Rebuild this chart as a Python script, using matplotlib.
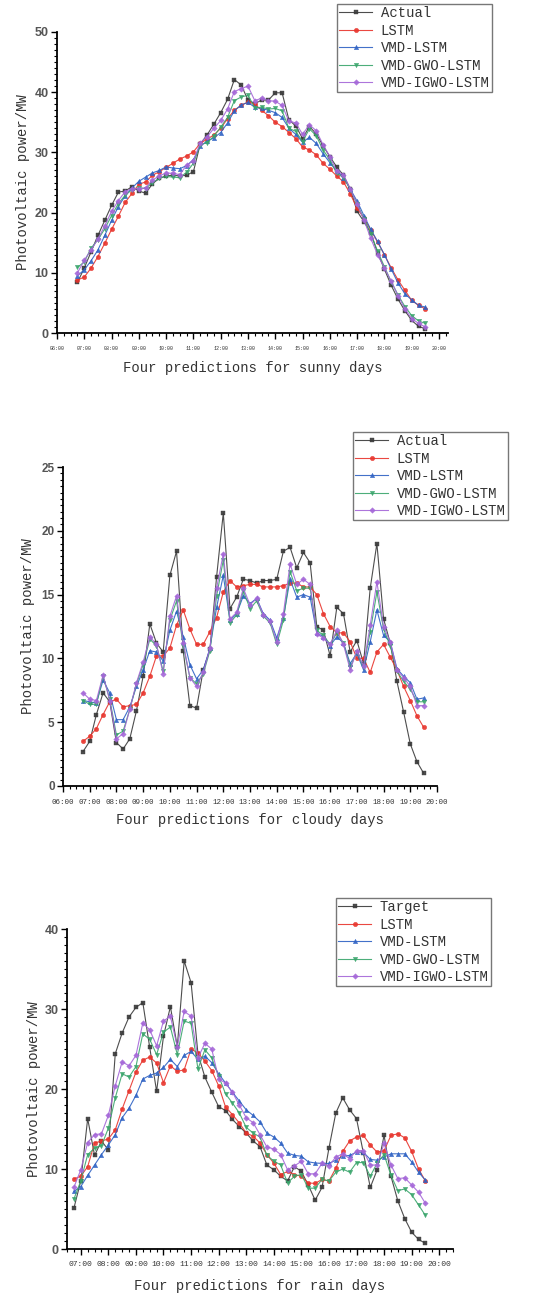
#!/usr/bin/env python3
"""Four-model PV power forecasts for sunny, cloudy and rain days (three stacked panels)."""
import matplotlib
matplotlib.use("Agg")
import matplotlib.pyplot as plt
from matplotlib.ticker import MultipleLocator

plt.rcParams["font.family"] = ["Liberation Mono", "DejaVu Sans Mono"]

TIMES = ["06:45", "07:00", "07:15", "07:30", "07:45", "08:00", "08:15", "08:30", "08:45",
         "09:00", "09:15", "09:30", "09:45", "10:00", "10:15", "10:30", "10:45",
         "11:00", "11:15", "11:30", "11:45", "12:00", "12:15", "12:30", "12:45",
         "13:00", "13:15", "13:30", "13:45", "14:00", "14:15", "14:30", "14:45",
         "15:00", "15:15", "15:30", "15:45", "16:00", "16:15", "16:30", "16:45",
         "17:00", "17:15", "17:30", "17:45", "18:00", "18:15", "18:30", "18:45",
         "19:00", "19:15", "19:30"]

MODELS = ["LSTM", "VMD-LSTM", "VMD-GWO-LSTM", "VMD-IGWO-LSTM"]

# sunny day
SUNNY_ACTUAL = [8.4, 10.8, 13.5, 16.2, 18.7, 21.2, 23.4, 23.6, 24.3, 23.6, 23.2, 24.8, 25.7,
                26.1, 26.2, 26.1, 26.2, 26.8, 31.4, 32.9, 34.7, 36.6, 38.8, 42.1, 41.2, 38.7,
                38.1, 38.7, 38.7, 39.9, 39.9, 35.4, 34.4, 32.3, 34.3, 33.1, 31.1, 29.3, 27.6,
                26.2, 23.9, 20.2, 18.5, 16.6, 13.3, 10.6, 7.9, 5.6, 3.7, 2.1, 1.1, 0.7]
SUNNY_LSTM = [8.8, 9.3, 10.8, 12.7, 14.9, 17.2, 19.4, 21.7, 23.2, 24.7, 25.1, 26.2, 26.8,
              27.5, 28.2, 28.9, 29.4, 30.1, 31.5, 32.2, 32.9, 34.0, 35.6, 37.0, 37.8, 38.4,
              38.0, 37.0, 36.1, 35.0, 34.3, 33.3, 32.3, 30.9, 30.4, 29.6, 28.2, 27.2, 26.1,
              25.1, 23.1, 20.7, 19.1, 17.1, 15.1, 13.0, 10.8, 8.8, 7.1, 5.4, 4.6, 4.0]
SUNNY_VMD = [9.5, 10.5, 12.0, 13.8, 16.2, 18.7, 21.0, 22.8, 24.1, 25.2, 25.9, 26.6, 27.0,
             27.6, 27.4, 27.3, 27.8, 28.8, 31.0, 31.9, 32.4, 33.3, 34.9, 36.9, 37.9, 38.3,
             37.5, 37.3, 37.0, 36.6, 35.8, 34.0, 33.0, 31.7, 32.5, 31.5, 29.8, 28.3, 26.9,
             25.8, 23.9, 21.9, 19.5, 17.2, 15.2, 13.0, 10.6, 8.3, 6.5, 5.5, 4.6, 4.3]
SUNNY_GWO = [10.9, 11.8, 14.1, 15.5, 17.3, 19.5, 21.5, 22.9, 23.8, 24.1, 24.0, 25.0, 25.7,
             26.0, 25.9, 25.8, 26.7, 28.2, 31.3, 31.6, 32.7, 34.2, 35.8, 38.6, 39.2, 39.5,
             37.4, 37.5, 37.2, 37.3, 36.9, 34.0, 33.5, 31.8, 33.9, 32.8, 30.4, 28.8, 26.5,
             25.9, 23.8, 21.4, 19.0, 16.5, 13.6, 11.0, 8.5, 6.3, 4.4, 2.9, 2.0, 1.6]
SUNNY_IGWO = [10.0, 12.1, 13.8, 15.6, 17.8, 20.2, 22.0, 23.5, 24.0, 24.0, 24.1, 25.4, 26.1,
              26.6, 26.5, 26.3, 27.9, 28.6, 31.6, 32.6, 34.0, 35.3, 37.2, 40.1, 40.6, 41.0,
              38.6, 39.0, 38.6, 38.5, 37.8, 35.2, 34.9, 33.0, 34.6, 33.6, 31.3, 29.3, 26.9,
              26.3, 23.9, 21.4, 18.8, 15.7, 13.0, 10.8, 8.6, 6.2, 4.0, 2.4, 1.6, 1.0]

# cloudy day
CLOUDY_ACTUAL = [2.7, 3.5, 5.6, 7.3, 6.6, 3.4, 2.9, 3.7, 5.9, 8.6, 12.7, 11.2, 10.5, 16.5,
                 18.4, 10.6, 6.3, 6.1, 9.1, 10.7, 16.4, 21.4, 13.9, 14.8, 16.2, 16.1, 15.9,
                 16.1, 16.1, 16.2, 18.4, 18.7, 17.1, 18.3, 17.5, 12.5, 12.2, 10.2, 14.0, 13.5,
                 10.5, 11.4, 9.6, 15.5, 19.0, 13.1, 11.2, 8.2, 5.8, 3.3, 1.9, 1.0]
CLOUDY_LSTM = [3.5, 3.9, 4.5, 5.6, 6.6, 6.8, 6.2, 6.3, 6.4, 7.3, 8.6, 10.2, 10.2, 10.8, 12.6,
               13.8, 12.3, 11.1, 11.1, 12.1, 13.2, 15.2, 16.1, 15.6, 15.7, 15.8, 15.8, 15.6,
               15.6, 15.6, 15.7, 15.9, 15.9, 15.6, 15.6, 15.0, 13.5, 12.5, 12.0, 12.0, 11.3,
               10.0, 10.0, 8.9, 10.5, 11.1, 10.1, 9.1, 7.8, 6.7, 5.5, 4.6]
CLOUDY_VMD = [6.7, 6.6, 6.5, 8.3, 7.3, 5.2, 5.2, 6.2, 7.8, 9.1, 10.6, 10.5, 9.8, 12.2, 13.7,
              11.7, 9.5, 8.4, 9.1, 10.8, 14.0, 16.5, 13.0, 13.5, 14.9, 14.3, 14.7, 13.5, 13.0,
              11.6, 13.2, 16.2, 14.8, 15.0, 14.8, 12.0, 11.7, 11.0, 11.7, 11.2, 9.6, 10.4,
              9.1, 11.3, 13.8, 11.8, 11.3, 9.2, 8.6, 8.1, 6.8, 6.9]
CLOUDY_GWO = [6.7, 6.4, 6.4, 8.6, 6.8, 4.0, 4.3, 6.0, 8.0, 9.5, 11.5, 11.0, 9.0, 13.0, 14.5,
              11.0, 8.5, 8.0, 8.8, 10.6, 14.9, 17.7, 12.8, 13.4, 15.3, 13.9, 14.5, 13.3, 12.8,
              11.1, 13.0, 16.8, 15.3, 15.5, 15.5, 12.2, 11.8, 11.1, 12.0, 11.2, 9.3, 10.5,
              9.3, 12.1, 15.2, 12.3, 11.0, 9.0, 8.2, 7.6, 6.6, 6.6]
CLOUDY_IGWO = [7.3, 6.8, 6.7, 8.7, 6.7, 3.7, 4.1, 6.0, 8.1, 9.7, 11.7, 11.1, 8.8, 13.3, 14.9,
               11.2, 8.5, 7.8, 8.9, 10.8, 15.5, 18.2, 13.1, 13.6, 15.5, 14.2, 14.7, 13.4, 12.9,
               11.3, 13.5, 17.4, 15.8, 16.2, 15.8, 11.9, 11.6, 11.1, 12.2, 11.1, 9.1, 10.6,
               9.4, 12.6, 16.0, 12.5, 11.3, 9.1, 8.5, 7.8, 6.3, 6.3]

# rain day
RAIN_TARGET = [5.1, 8.5, 16.3, 11.7, 13.5, 12.4, 24.4, 27.0, 29.0, 30.2, 30.8, 25.2, 19.7,
               26.6, 30.3, 25.3, 36.0, 33.3, 24.4, 21.5, 19.6, 17.8, 17.3, 16.2, 15.3, 14.5,
               13.5, 12.8, 10.5, 9.9, 9.1, 8.5, 10.3, 9.7, 8.0, 6.1, 7.7, 12.6, 17.0, 18.9,
               17.4, 16.3, 12.0, 7.7, 9.9, 14.2, 9.1, 6.0, 3.8, 2.1, 1.2, 0.7]
RAIN_LSTM = [8.75, 9.1, 10.3, 13.25, 13.5, 13.75, 14.9, 17.5, 19.8, 22.1, 23.6, 24.0, 23.25,
             20.8, 22.9, 22.2, 22.4, 25.0, 24.5, 23.5, 22.3, 20.4, 17.75, 16.8, 15.75, 14.5,
             14.1, 13.25, 11.8, 10.75, 9.3, 9.7, 9.3, 9.1, 8.25, 8.2, 8.7, 8.5, 10.1, 12.2,
             13.5, 14.0, 14.2, 13.0, 12.1, 12.3, 14.2, 14.4, 13.9, 12.2, 10.0, 8.5]
RAIN_VMD = [7.2, 7.8, 9.2, 10.5, 11.8, 13.0, 14.3, 16.4, 17.6, 19.2, 21.25, 21.7, 22.0, 22.7,
            23.7, 22.8, 24.2, 24.7, 23.7, 24.1, 23.3, 21.9, 20.75, 19.6, 18.5, 17.4, 16.7,
            15.9, 14.5, 14.0, 13.25, 12.0, 11.7, 11.6, 10.9, 10.75, 10.7, 10.7, 11.1, 11.6,
            11.7, 12.1, 12.1, 11.2, 11.1, 11.5, 11.9, 11.9, 11.9, 10.9, 9.6, 8.6]
RAIN_GWO = [6.25, 8.5, 11.8, 12.6, 12.9, 15.1, 18.9, 21.9, 21.5, 22.8, 26.9, 26.2, 24.3, 27.1,
            27.75, 24.3, 28.5, 28.2, 22.5, 24.9, 23.9, 21.6, 19.4, 18.25, 17.0, 15.2, 14.5,
            14.0, 11.7, 11.0, 10.5, 8.25, 9.1, 9.3, 7.6, 7.6, 8.7, 8.5, 9.6, 10.0, 9.6, 10.8,
            10.8, 9.1, 10.75, 11.8, 9.2, 7.3, 7.5, 6.8, 5.5, 4.2]
RAIN_IGWO = [7.7, 9.9, 13.3, 14.3, 14.4, 16.7, 20.4, 23.4, 22.9, 24.2, 28.25, 27.4, 25.4, 28.5,
             29.1, 25.3, 29.7, 29.1, 23.9, 25.7, 25.0, 21.25, 20.75, 19.6, 18.0, 16.4, 15.8,
             14.3, 12.75, 12.5, 11.8, 9.9, 10.4, 10.95, 9.4, 9.4, 10.7, 10.4, 11.5, 11.9, 11.3,
             12.3, 12.3, 10.5, 10.5, 13.2, 10.5, 8.8, 8.9, 8.0, 7.1, 5.7]

COLORS = ["#3a3a3a", "#e8342c", "#2e62c4", "#3aa56c", "#a466d8"]
MARKERS = ["s", "o", "^", "v", "D"]

W, H = 533, 1297


def hours(t):
    h, m = t.split(":")
    return int(h) + int(m) / 60


def fig_rect(left, top, right, bottom):
    return [left / W, 1 - bottom / H, (right - left) / W, (bottom - top) / H]


panels = [
    dict(rect=fig_rect(57, 32, 448, 333), first="Actual",
         series=[SUNNY_ACTUAL, SUNNY_LSTM, SUNNY_VMD, SUNNY_GWO, SUNNY_IGWO],
         xlim=(6, 20.33), xticks=range(6, 21), ylim=(0, 50), ymaj=10, ymin=1,
         xtick_fs=3.6, ytick_fs=9, legend_at=(337, 4), ylab_dx=27, xlab_dy=28,
         xlabel="Four predictions for sunny days"),
    dict(rect=fig_rect(63, 467, 437, 786), first="Actual",
         series=[CLOUDY_ACTUAL, CLOUDY_LSTM, CLOUDY_VMD, CLOUDY_GWO, CLOUDY_IGWO],
         xlim=(6, 20), xticks=range(6, 21), ylim=(0, 25), ymaj=5, ymin=0.5,
         xtick_fs=5.4, ytick_fs=8.5, legend_at=(353, 432), ylab_dx=28, xlab_dy=27,
         xlabel="Four predictions for cloudy days"),
    dict(rect=fig_rect(67, 929, 453, 1249), first="Target",
         series=[RAIN_TARGET, RAIN_LSTM, RAIN_VMD, RAIN_GWO, RAIN_IGWO],
         xlim=(6.5, 20.5), xticks=range(7, 21), ylim=(0, 40), ymaj=10, ymin=1,
         xtick_fs=5.8, ytick_fs=9, legend_at=(336, 898), ylab_dx=26, xlab_dy=30,
         xlabel="Four predictions for rain days"),
]

x = [hours(t) for t in TIMES]

fig = plt.figure(figsize=(W / 100, H / 100), dpi=100)

for p in panels:
    ax = fig.add_axes(p["rect"])
    labels = [p["first"]] + MODELS
    for vals, lab, c, mk in zip(p["series"], labels, COLORS, MARKERS):
        ms = 3.2 if mk != "D" else 2.8
        ax.plot(x, vals, color=c, lw=0.8, alpha=0.9, marker=mk, ms=ms,
                mfc=c, mec=c, mew=0.3, label=lab)

    ax.set_xlim(*p["xlim"])
    ax.set_ylim(*p["ylim"])
    ax.set_xticks(list(p["xticks"]))
    ax.set_xticklabels([f"{h:02d}:00" for h in p["xticks"]], fontsize=p["xtick_fs"],
                       color="#333333")
    ax.xaxis.set_minor_locator(MultipleLocator(0.25))
    ax.yaxis.set_major_locator(MultipleLocator(p["ymaj"]))
    ax.yaxis.set_minor_locator(MultipleLocator(p["ymin"]))
    for t in ax.get_yticklabels():
        t.set_fontfamily(["Liberation Sans", "DejaVu Sans"])
        t.set_fontweight("bold")
        t.set_fontsize(p["ytick_fs"])
        t.set_color("#555555")
    ax.tick_params(axis="y", pad=2)
    ax.tick_params(which="major", direction="out", length=4, width=1.0)
    ax.tick_params(which="minor", direction="out", length=2.5, width=0.8)
    ax.tick_params(axis="x", which="major", pad=5)

    for s in ("top", "right"):
        ax.spines[s].set_visible(False)
    for s in ("left", "bottom"):
        ax.spines[s].set_linewidth(1.3)

    ax.set_ylabel("Photovoltaic power/MW", fontsize=10, color="#333333")
    ax.set_xlabel(p["xlabel"], fontsize=10, color="#333333")
    wpx = p["rect"][2] * W
    hpx = p["rect"][3] * H
    ax.yaxis.set_label_coords(-p["ylab_dx"] / wpx, 0.5)
    ax.xaxis.set_label_coords(0.5, -p["xlab_dy"] / hpx)

    lx, ly = p["legend_at"]
    leg = ax.legend(loc="upper left", bbox_to_anchor=(lx / W, 1 - ly / H),
                    bbox_transform=fig.transFigure, fontsize=10, frameon=True,
                    fancybox=False, borderpad=0.15, labelspacing=0.25,
                    handlelength=2.4, handletextpad=0.6, borderaxespad=0)
    leg.get_frame().set_edgecolor("#555555")
    leg.get_frame().set_linewidth(1.0)
    for t in leg.get_texts():
        t.set_color("#333333")

fig.savefig("out.png", dpi=100)
print("Generated out.png")
